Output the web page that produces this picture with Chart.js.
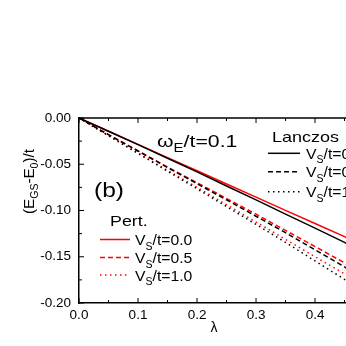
<!DOCTYPE html>
<html>
<head>
<meta charset="utf-8">
<script src="https://cdn.jsdelivr.net/npm/chart.js@4"></script>
<style>
  html, body { margin: 0; padding: 0; background: #fff; }
  #wrap { width: 346px; height: 346px; }
</style>
</head>
<body>
<div id="wrap"><canvas id="c" width="346" height="346"></canvas></div>
<script>
// lambda grid and energies
const lambdas = [0, 0.05, 0.1, 0.15, 0.2, 0.25, 0.3, 0.35, 0.4, 0.45, 0.5];

const pertVs00 = [0, -0.0143, -0.0285, -0.0428, -0.0570, -0.0713, -0.0855, -0.0998, -0.1140, -0.1283, -0.1425];
const pertVs05 = [0, -0.0180, -0.0355, -0.0530, -0.0700, -0.0870, -0.1040, -0.1215, -0.1390, -0.1565, -0.1740];
const pertVs10 = [0, -0.0190, -0.0378, -0.0565, -0.0750, -0.0937, -0.1125, -0.1312, -0.1500, -0.1685, -0.1870];

const lancVs00 = [0, -0.0143, -0.0288, -0.0435, -0.0582, -0.0735, -0.0885, -0.1040, -0.1190, -0.1345, -0.1500];
const lancVs05 = [0, -0.0180, -0.0357, -0.0535, -0.0710, -0.0885, -0.1062, -0.1240, -0.1425, -0.1610, -0.1800];
const lancVs10 = [0, -0.0192, -0.0383, -0.0575, -0.0765, -0.0957, -0.1150, -0.1345, -0.1545, -0.1745, -0.1950];

const vsLabels = ["0.0", "0.5", "1.0"];

const FONT = "'Liberation Sans', Arial, sans-serif";
const RED = "#ff0000";
const DASH = [5, 3];
const DOT = [1.5, 3.5];

function series(ys) {
  return lambdas.map((x, i) => ({ x, y: ys[i] }));
}

function ds(label, ys, color, dash) {
  return {
    label,
    data: series(ys),
    borderColor: color,
    borderWidth: 1.5,
    borderDash: dash,
    pointRadius: 0,
    tension: 0,
    fill: false
  };
}

// text with subscripts: parts = [[text, isSub], ...], sx = horizontal stretch
function drawParts(ctx, x, y, parts, size, sx = 1) {
  ctx.save();
  ctx.translate(x, y);
  ctx.scale(sx, 1);
  let cx = 0;
  parts.forEach(([t, sub]) => {
    const s = sub ? Math.round(size * 0.68) : size;
    ctx.font = `${s}px ${FONT}`;
    ctx.fillText(t, cx, sub ? size * 0.3 : 0);
    cx += ctx.measureText(t).width;
  });
  ctx.restore();
}

const decorations = {
  id: "decorations",
  afterDraw(chart) {
    const { ctx, chartArea: a, scales } = chart;
    const xs = scales.x, ys = scales.y;
    ctx.save();
    ctx.strokeStyle = "#000";
    ctx.lineWidth = 1.5;
    ctx.setLineDash([]);

    // top frame line
    ctx.beginPath();
    ctx.moveTo(a.left, a.top);
    ctx.lineTo(a.right, a.top);
    ctx.stroke();

    // inward ticks
    ctx.lineWidth = 1;
    ctx.beginPath();
    for (let i = 0; i <= 8; i++) {
      const v = -0.2 + i * 0.025;
      const py = ys.getPixelForValue(v);
      const len = i % 2 === 0 ? 5 : 3;
      ctx.moveTo(a.left, py);
      ctx.lineTo(a.left + len, py);
    }
    for (let i = 0; i <= 9; i++) {
      const v = i * 0.05;
      const px = xs.getPixelForValue(v);
      if (px > a.right + 1) continue;
      const len = i % 2 === 0 ? 5 : 3;
      ctx.moveTo(px, a.bottom);
      ctx.lineTo(px, a.bottom - len);
      ctx.moveTo(px, a.top);
      ctx.lineTo(px, a.top + len);
    }
    ctx.stroke();

    ctx.fillStyle = "#000";
    ctx.textBaseline = "alphabetic";
    ctx.textAlign = "left";

    // omega_E/t=0.1
    drawParts(ctx, 157, 147, [["\u03C9", false], ["E", true], ["/t=0.1", false]], 17, 1.25);

    // (b)
    drawParts(ctx, 94, 197, [["(b)", false]], 21, 1.17);

    // Lanczos legend
    drawParts(ctx, 272, 142, [["Lanczos", false]], 15, 1.2);
    const dashes = [[], DASH, DOT];
    [153.3, 171.7, 191.7].forEach((y, i) => {
      ctx.strokeStyle = "#000";
      ctx.lineWidth = 1.5;
      ctx.setLineDash(dashes[i]);
      ctx.beginPath();
      ctx.moveTo(268, y);
      ctx.lineTo(300, y);
      ctx.stroke();
      ctx.setLineDash([]);
      drawParts(ctx, 306, y + 5.5, [["V", false], ["S", true], ["/t=" + vsLabels[i], false]], 15, 1.05);
    });

    // Pert legend
    drawParts(ctx, 110, 226, [["Pert.", false]], 15.5, 1.15);
    [239.5, 257.5, 275].forEach((y, i) => {
      ctx.strokeStyle = RED;
      ctx.lineWidth = 1.5;
      ctx.setLineDash(dashes[i]);
      ctx.beginPath();
      ctx.moveTo(100, y);
      ctx.lineTo(130, y);
      ctx.stroke();
      ctx.setLineDash([]);
      drawParts(ctx, 135, y + 5.5, [["V", false], ["S", true], ["/t=" + vsLabels[i], false]], 15, 1.05);
    });

    // y axis title, rotated
    ctx.save();
    ctx.translate(34, 214);
    ctx.rotate(-Math.PI / 2);
    drawParts(ctx, 0, 0, [["(E", false], ["GS", true], ["-E", false], ["0", true], [")/t", false]], 14.5, 1.05);
    ctx.restore();

    // x axis title
    ctx.font = `14px ${FONT}`;
    ctx.textAlign = "center";
    ctx.fillText("\u03BB", 214, 332);

    ctx.restore();
  }
};

new Chart(document.getElementById("c").getContext("2d"), {
  type: "line",
  data: {
    datasets: [
      ds("Lanczos Vs/t=0.0", lancVs00, "#000", []),
      ds("Lanczos Vs/t=0.5", lancVs05, "#000", DASH),
      ds("Lanczos Vs/t=1.0", lancVs10, "#000", DOT),
      ds("Pert. Vs/t=0.0", pertVs00, RED, []),
      ds("Pert. Vs/t=0.5", pertVs05, RED, DASH),
      ds("Pert. Vs/t=1.0", pertVs10, RED, DOT)
    ]
  },
  options: {
    responsive: false,
    animation: false,
    devicePixelRatio: 1,
    layout: { padding: { top: 118, left: 0, right: 0, bottom: 0 } },
    plugins: { legend: { display: false }, tooltip: { enabled: false } },
    scales: {
      x: {
        type: "linear",
        min: 0,
        max: 0.4525,
        grid: { display: false, drawTicks: false },
        border: { display: true, color: "#000", width: 1.5 },
        ticks: {
          stepSize: 0.1,
          includeBounds: false,
          padding: 4,
          color: "#000",
          font: { family: FONT, size: 13.5 },
          maxRotation: 0,
          callback: v => v.toFixed(1)
        },
        afterFit(scale) {
          scale.height = 43;
          scale.paddingLeft = 0;
          scale.paddingRight = 0;
        }
      },
      y: {
        min: -0.2,
        max: 0,
        grid: { display: false, drawTicks: false },
        border: { display: true, color: "#000", width: 1.5 },
        ticks: {
          stepSize: 0.05,
          padding: 8,
          color: "#000",
          font: { family: FONT, size: 13.5 },
          callback: v => (Math.abs(v) < 1e-9 ? "0.00" : v.toFixed(2))
        },
        afterFit(scale) {
          scale.width = 79;
          scale.paddingTop = 0;
          scale.paddingBottom = 0;
        }
      }
    }
  },
  plugins: [decorations]
});
</script>
</body>
</html>
